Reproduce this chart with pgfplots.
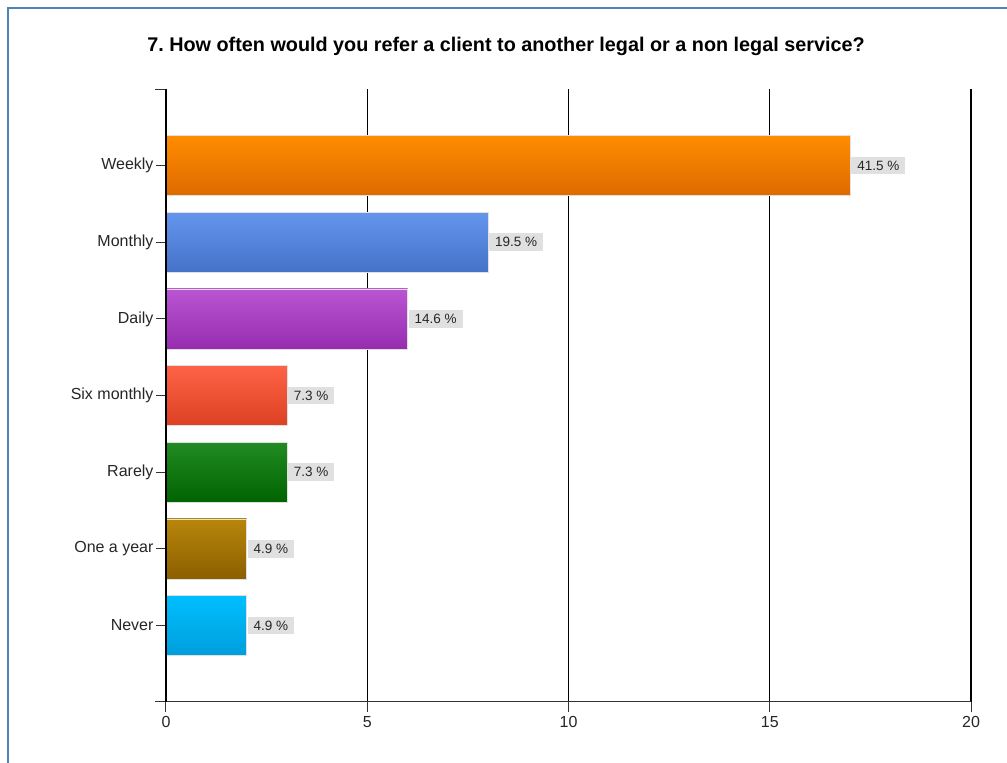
\documentclass[border=0pt]{standalone}
\usepackage{pgfplots}
\pgfplotsset{compat=1.18}
\usepackage{fontspec}
\setmainfont{Liberation Sans}
\definecolor{frameblue}{RGB}{79,129,189}
\definecolor{orT}{RGB}{255,140,0}\definecolor{orB}{RGB}{222,106,0}
\definecolor{blT}{RGB}{100,149,237}\definecolor{blB}{RGB}{68,114,200}
\definecolor{puT}{RGB}{186,85,211}\definecolor{puB}{RGB}{150,45,175}
\definecolor{reT}{RGB}{255,99,71}\definecolor{reB}{RGB}{220,65,35}
\definecolor{grT}{RGB}{34,139,34}\definecolor{grB}{RGB}{0,100,0}
\definecolor{goT}{RGB}{184,134,11}\definecolor{goB}{RGB}{140,95,0}
\definecolor{skT}{RGB}{0,191,255}\definecolor{skB}{RGB}{0,158,220}
\definecolor{lblgray}{RGB}{224,224,224}
\begin{document}
\begin{tikzpicture}[x=1pt,y=1pt]
\useasboundingbox (0,0) rectangle (1007,763);
\fill[white] (0,0) rectangle (1007,763);
\draw[line width=2pt, frameblue] (8,0) -- (8,755) -- (1007,755);
\node[font=\bfseries\fontsize{19.8}{23}\selectfont] at (506,717) {7.\ How often would you refer a client to another legal or a non legal service?};
\begin{axis}[
  at={(166pt,61pt)}, anchor=south west,
  scale only axis, width=805pt, height=613pt,
  xmin=0, xmax=20, ymin=-1, ymax=7,
  axis x line*=bottom, axis y line*=left,
  axis line style={black!80, line width=1pt},
  xtick={0,5,10,15,20},
  ytick={0,1,2,3,4,5,6},
  yticklabels={Never,One a year,Rarely,Six monthly,Daily,Monthly,Weekly},
  extra y ticks={-1,7}, extra y tick labels={},
  extra y tick style={major tick length=11pt, tick style={black!80, line width=1pt}},
  tick align=outside,
  major tick length=10pt,
  tick style={black!80, line width=1pt},
  xmajorgrids,
  major grid style={black, line width=1.2pt},
  ticklabel style={font=\fontsize{16}{18}\selectfont, text=black!85},
  yticklabel style={xshift=1pt},
  /pgf/number format/assume math mode=true,
  xticklabel style={yshift=-1pt},
  clip=false,
  every node near coord/.style={anchor=west, fill=lblgray, inner xsep=6pt, inner ysep=4pt, font=\fontsize{13.5}{15}\selectfont, text=black!85, xshift=1pt},
]
\addplot[xbar, bar width=60pt, bar shift=0pt, draw=black!12, top color=orT, bottom color=orB, nodes near coords, point meta=explicit symbolic] coordinates {(17,6) [41.5 \%]};
\addplot[xbar, bar width=60pt, bar shift=0pt, draw=black!12, top color=blT, bottom color=blB, nodes near coords, point meta=explicit symbolic] coordinates {(8,5) [19.5 \%]};
\addplot[xbar, bar width=60pt, bar shift=0pt, draw=black!12, top color=puT, bottom color=puB, nodes near coords, point meta=explicit symbolic] coordinates {(6,4) [14.6 \%]};
\addplot[xbar, bar width=60pt, bar shift=0pt, draw=black!12, top color=reT, bottom color=reB, nodes near coords, point meta=explicit symbolic] coordinates {(3,3) [7.3 \%]};
\addplot[xbar, bar width=60pt, bar shift=0pt, draw=black!12, top color=grT, bottom color=grB, nodes near coords, point meta=explicit symbolic] coordinates {(3,2) [7.3 \%]};
\addplot[xbar, bar width=60pt, bar shift=0pt, draw=black!12, top color=goT, bottom color=goB, nodes near coords, point meta=explicit symbolic] coordinates {(2,1) [4.9 \%]};
\addplot[xbar, bar width=60pt, bar shift=0pt, draw=black!12, top color=skT, bottom color=skB, nodes near coords, point meta=explicit symbolic] coordinates {(2,0) [4.9 \%]};
\draw[black, line width=1.2pt] (axis cs:0,-1) -- (axis cs:0,7);
\end{axis}
\end{tikzpicture}
\end{document}
